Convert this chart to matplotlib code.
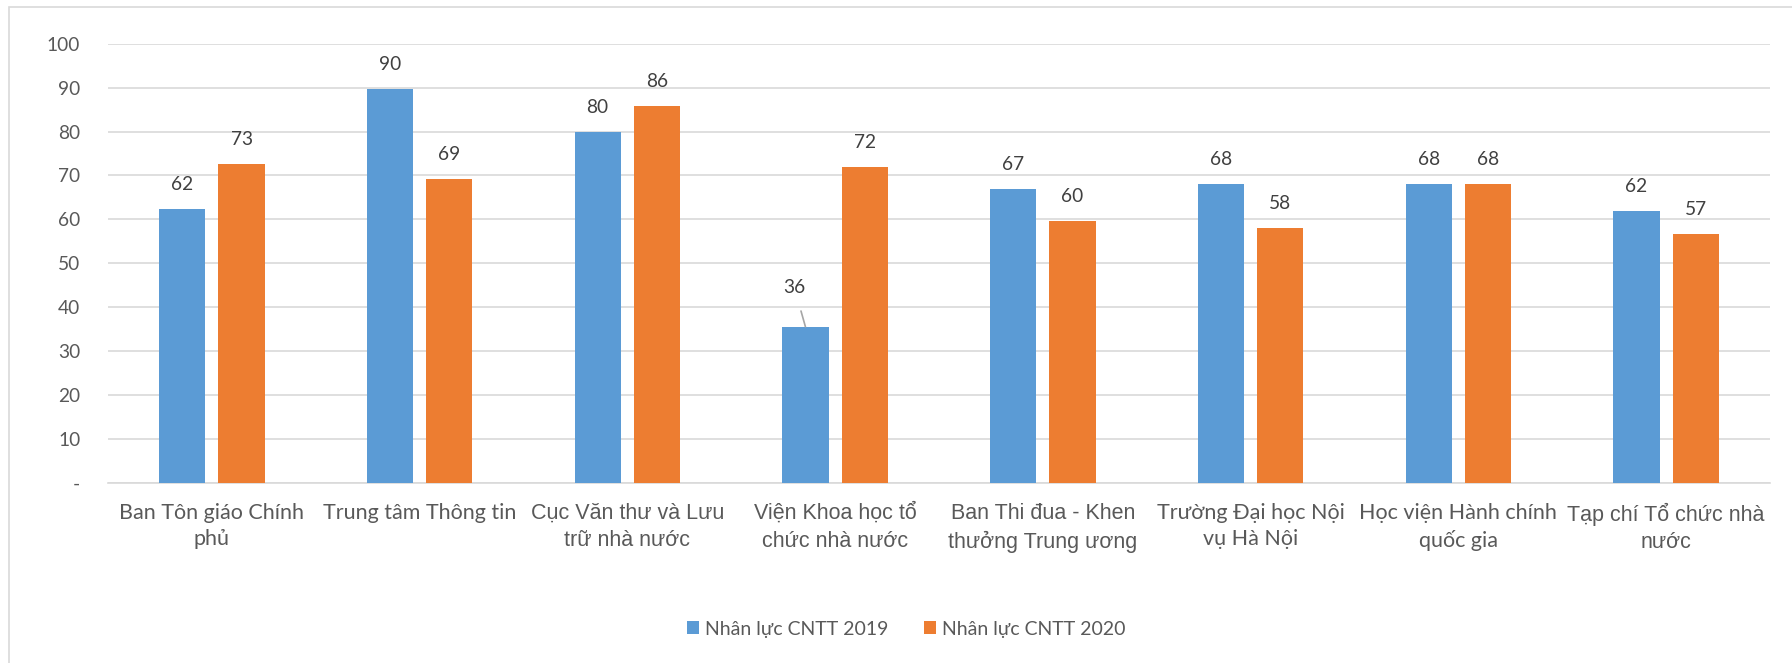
import matplotlib
matplotlib.use("Agg")
import matplotlib.pyplot as plt
from matplotlib.patches import Rectangle
import numpy as np

categories = [
    "Ban Tôn giáo Chính\nphủ",
    "Trung tâm Thông tin",
    "Cục Văn thư và Lưu\ntrữ nhà nước",
    "Viện Khoa học tổ\nchức nhà nước",
    "Ban Thi đua - Khen\nthưởng Trung ương",
    "Trường Đại học Nội\nvụ Hà Nội",
    "Học viện Hành chính\nquốc gia",
    "Tạp chí Tổ chức nhà\nnước",
]
series_names = ["Nhân lực CNTT 2019", "Nhân lực CNTT 2020"]
values_2019 = [62.4, 89.6, 80.0, 35.6, 67.0, 68.0, 68.0, 62.0]
values_2020 = [72.6, 69.2, 85.9, 71.9, 59.6, 58.1, 68.1, 56.8]
yticks = [0, 10, 20, 30, 40, 50, 60, 70, 80, 90, 100]
ytick_labels = ["-", "10", "20", "30", "40", "50", "60", "70", "80", "90", "100"]

BLUE = "#5B9BD5"
ORANGE = "#ED7D31"
CAL = ["Lato", "DejaVu Sans"]
ARI = ["Liberation Sans", "DejaVu Sans"]
label_fonts = [CAL, CAL, ARI, ARI, ARI, CAL, CAL, ARI]

W, H = 1792, 663
fig = plt.figure(figsize=(W / 100, H / 100), dpi=100)
fig.patch.set_facecolor("white")

# chart area border
fig.add_artist(Rectangle((9 / W, -0.1), 1.2, 1 - 7 / H + 0.1, transform=fig.transFigure,
                         fill=False, edgecolor="#D9D9D9", linewidth=1.2))

ax = fig.add_axes([108 / W, 1 - 483.2 / H, (1770 - 108) / W, (483.2 - 43.6) / H])
x = np.arange(len(categories))
bw = 0.223
off = 0.143
b1 = ax.bar(x - off, values_2019, bw, color=BLUE, label=series_names[0], zorder=3)
b2 = ax.bar(x + off, values_2020, bw, color=ORANGE, label=series_names[1], zorder=3)

ax.set_xlim(-0.5, len(categories) - 0.5)
ax.set_ylim(0, 100)
ax.set_yticks(yticks)
ax.set_yticklabels(ytick_labels, fontfamily=CAL, fontsize=13.8, color="#595959")
ax.yaxis.grid(True, color="#D9D9D9", linewidth=1.2, zorder=0)
ax.set_axisbelow(True)
for s in ["left", "right", "top"]:
    ax.spines[s].set_visible(False)
ax.spines["bottom"].set_color("#D9D9D9")
ax.spines["bottom"].set_linewidth(1.2)
ax.tick_params(axis="y", length=0, pad=20)
ax.tick_params(axis="x", length=0, pad=14)
ax.set_xticks(x)
ax.set_xticklabels(categories, fontsize=15.5, color="#595959", linespacing=1.42)
for lbl, fam in zip(ax.get_xticklabels(), label_fonts):
    lbl.set_fontfamily(fam)

def put_labels(xs, vals):
    for xi, v in zip(xs, vals):
        ax.annotate(f"{v:.0f}", (xi, v), xytext=(0, 16), textcoords="offset pixels",
                    ha="center", va="bottom", fontfamily=CAL, fontsize=13.8,
                    color="#404040")

for i, v in enumerate(values_2019):
    if i == 3:
        ax.annotate(f"{v:.0f}", (x[i] - off, v), xytext=(-11, 39), textcoords="offset pixels",
                    ha="center", va="center", fontfamily=CAL, fontsize=13.8, color="#404040",
                    arrowprops=dict(arrowstyle="-", color="#A6A6A6", lw=1.2,
                                    shrinkA=9, shrinkB=0))
    else:
        put_labels([x[i] - off], [v])
put_labels(x + off, values_2020)

leg = fig.legend(handles=[b1, b2], labels=series_names, loc="center",
                 bbox_to_anchor=(906 / W, 34 / H), ncol=2, frameon=False,
                 prop={"family": CAL, "size": 14}, handlelength=0.62, handleheight=0.62,
                 handletextpad=0.3, columnspacing=1.85)
for t in leg.get_texts():
    t.set_color("#595959")

fig.savefig("out.png", dpi=100, facecolor="white")
